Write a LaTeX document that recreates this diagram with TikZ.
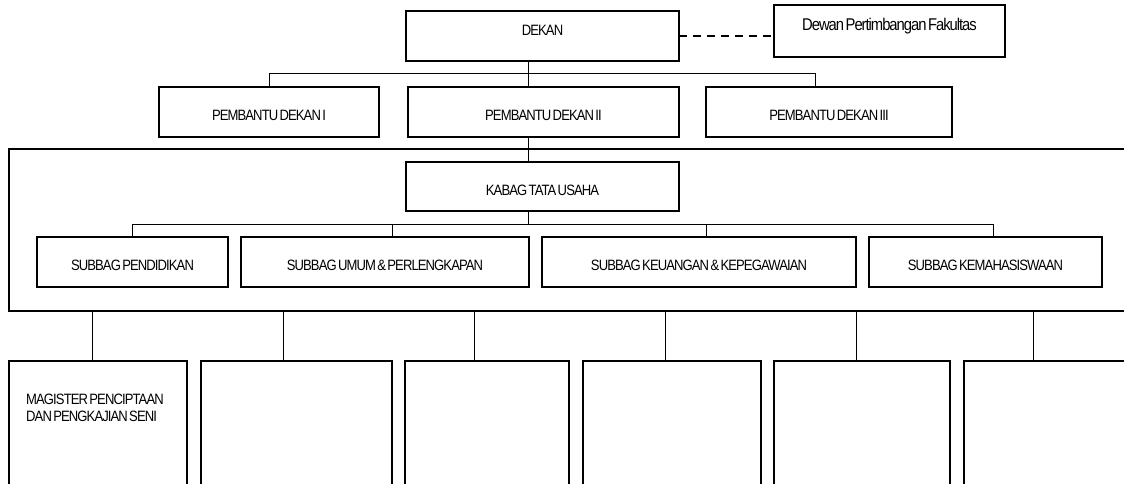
\documentclass[tikz,border=0pt]{standalone}
\usepackage{fontspec}
\newfontfamily\orgfont[FakeStretch=0.87, LetterSpace=-6, WordSpace=0.5]{Liberation Sans}
\usetikzlibrary{positioning,calc}

\begin{document}
\begin{tikzpicture}[x=1pt, y=-1pt,
            box/.style={rectangle, draw, line width=1.4pt, inner sep=0pt, outer sep=0pt, minimum height=50pt, font=\orgfont\fontsize{15}{17}\selectfont, text height=17pt, text depth=0pt},
            headbox/.style={box, text height=11pt, text depth=12pt},
            unitbox/.style={rectangle, draw, line width=1.4pt, inner sep=0pt, outer sep=0pt, minimum width=#1, minimum height=140pt},
            unittext/.style={inner sep=0pt, align=left, font=\orgfont\fontsize{15}{16.7}\selectfont},
            frame/.style={rectangle, draw, line width=1.4pt, inner sep=0pt, outer sep=0pt},
            link/.style={line width=1pt}
        ]
        \clip (0,0) rectangle (1124,484);

        % Pimpinan
        \node[headbox, minimum width=273pt] (dekan) at (542.5,36) {DEKAN};
        \node[headbox, minimum width=231pt, minimum height=52pt, font=\orgfont\fontsize{17}{19}\selectfont] (dewan) at (889.5,31) {Dewan Pertimbangan Fakultas};
        \node[box, minimum width=220pt] (pd1) at (269,112) {PEMBANTU DEKAN I};
        \node[box, minimum width=271pt, right=29pt of pd1] (pd2) {PEMBANTU DEKAN II};
        \node[box, minimum width=246pt, right=27pt of pd2] (pd3) {PEMBANTU DEKAN III};

        % Tata usaha
        \node[frame, anchor=north west, minimum width=1130pt, minimum height=162pt] (office) at (9,149) {};
        \node[box, minimum width=273pt, minimum height=49pt] (kabag) at (542.5,186.5) {KABAG TATA USAHA};
        \node[box, minimum width=191pt] (sdik) at (132.5,262) {SUBBAG PENDIDIKAN};
        \node[box, minimum width=288pt, right=13pt of sdik] (sumum) {SUBBAG UMUM \& PERLENGKAPAN};
        \node[box, minimum width=314pt, right=13pt of sumum] (suang) {SUBBAG KEUANGAN \& KEPEGAWAIAN};
        \node[box, minimum width=233pt, right=13pt of suang] (smhs) {SUBBAG KEMAHASISWAAN};

        % Unit di bawah
        \node[unitbox=178pt, anchor=north west] (b1) at (9,361) {};
        \node[unitbox=191pt, right=14pt of b1] (b2) {};
        \node[unitbox=164pt, right=13pt of b2] (b3) {};
        \node[unitbox=178pt, right=14pt of b3] (b4) {};
        \node[unitbox=176pt, right=13pt of b4] (b5) {};
        \node[unitbox=178pt, right=14pt of b5] (b6) {};
        \node[unittext, below right=33pt and 17pt of b1.north west] (b1text) {MAGISTER PENCIPTAAN\\DAN PENGKAJIAN SENI};

        \coordinate (trunk) at ([xshift=-14.5pt]dekan.south);
        \draw[link] (trunk) -- (trunk |- pd2.north);
        \draw[link] (pd1.north) -- ++(0,-13) -| ([xshift=-14pt]pd3.north);
        \draw[link] (pd2.south -| trunk) -- (kabag.north -| trunk);
        \draw[link] (kabag.south -| trunk) -- ++(0,13);
        \draw[link] (sdik.north) -- ++(0,-13) -| ([xshift=7.5pt]smhs.north);
        \draw[link] ([xshift=7pt]sumum.north) -- ++(0,-13);
        \draw[link] ([xshift=7pt]suang.north) -- ++(0,-13);
        \foreach \b/\x in {b1/92, b2/283, b3/474, b4/665, b5/856, b6/1033}
            \draw[link] (\x,0 |- office.south) -- (\x,0 |- \b.north);

        \draw[link, line width=1.3pt, dash pattern=on 8pt off 6pt] (dekan.east) -- (dekan.east -| dewan.west);
        \end{tikzpicture}
\end{document}
